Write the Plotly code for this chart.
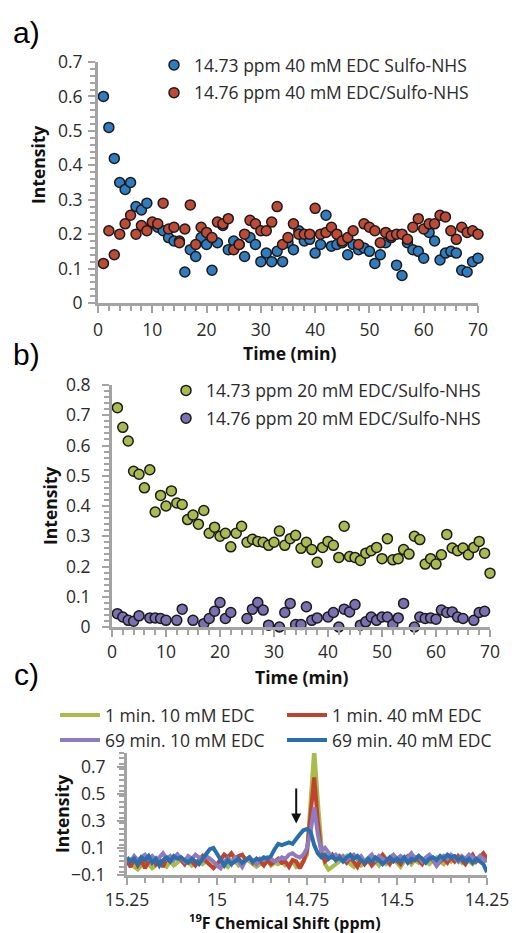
import plotly.graph_objects as go

# ---------------- Panel a data ----------------
time_a = list(range(1, 71))
blue_a = [0.60, 0.51, 0.42, 0.35, 0.33, 0.35, 0.28, 0.27, 0.29, 0.23,
          0.22, 0.21, 0.19, 0.18, 0.18, 0.09, 0.155, 0.135, 0.19, 0.17,
          0.095, 0.175, 0.225, 0.155, 0.18, 0.17, 0.135, 0.19, 0.17, 0.12,
          0.145, 0.12, 0.15, 0.12, 0.175, 0.155, 0.21, 0.18, 0.185, 0.145,
          0.17, 0.255, 0.165, 0.17, 0.175, 0.14, 0.17, 0.155, 0.16, 0.15,
          0.115, 0.14, 0.175, 0.19, 0.11, 0.08, 0.175, 0.155, 0.15, 0.13,
          0.205, 0.18, 0.125, 0.145, 0.15, 0.145, 0.095, 0.09, 0.12, 0.13]
red_a = [0.115, 0.21, 0.14, 0.2, 0.23, 0.255, 0.2, 0.225, 0.21, 0.235,
         0.23, 0.29, 0.215, 0.22, 0.175, 0.215, 0.285, 0.17, 0.22, 0.205,
         0.19, 0.235, 0.23, 0.245, 0.155, 0.17, 0.2, 0.24, 0.23, 0.21,
         0.21, 0.235, 0.28, 0.17, 0.19, 0.23, 0.2, 0.2, 0.2, 0.275,
         0.2, 0.205, 0.22, 0.2, 0.18, 0.19, 0.21, 0.17, 0.23, 0.22,
         0.21, 0.175, 0.205, 0.195, 0.2, 0.2, 0.185, 0.22, 0.245, 0.215,
         0.23, 0.23, 0.255, 0.25, 0.21, 0.185, 0.22, 0.205, 0.21, 0.2]

# ---------------- Panel b data ----------------
time_b_green = list(range(1, 71))
green_b = [0.725, 0.66, 0.615, 0.515, 0.505, 0.46, 0.52, 0.38, 0.435, 0.40,
           0.45, 0.41, 0.405, 0.355, 0.37, 0.34, 0.385, 0.31, 0.33, 0.30,
           0.31, 0.265, 0.31, 0.333, 0.28, 0.29, 0.283, 0.28, 0.27, 0.28,
           0.317, 0.27, 0.292, 0.303, 0.26, 0.28, 0.256, 0.214, 0.263, 0.283,
           0.27, 0.23, 0.333, 0.233, 0.23, 0.22, 0.244, 0.252, 0.263, 0.226,
           0.292, 0.222, 0.226, 0.256, 0.241, 0.30, 0.289, 0.208, 0.226, 0.208,
           0.239, 0.306, 0.261, 0.252, 0.261, 0.239, 0.263, 0.283, 0.244, 0.178]
time_b_purple = [1, 2, 3, 4, 5, 7, 8, 9, 10, 12, 13, 15, 17, 18, 19, 20, 21, 22,
                 25, 26, 27, 28, 29, 31, 32, 33, 34, 35, 36, 37, 38, 40, 41, 42,
                 43, 44, 45, 46, 47, 48, 49, 50, 51, 52, 53, 54, 56, 57, 58, 59,
                 60, 61, 62, 63, 64, 65, 67, 68, 69]
purple_b = [0.044, 0.033, 0.022, 0.019, 0.037, 0.03, 0.03, 0.028, 0.022, 0.022,
            0.059, 0.022, 0.011, 0.028, 0.052, 0.081, 0.028, 0.048,
            0.028, 0.059, 0.081, 0.056, 0.006, 0.0, 0.048, 0.078, 0.008, 0.008,
            0.067, 0.022, 0.03, 0.033, 0.048, 0.0,
            0.059, 0.05, 0.074, 0.006, 0.017, 0.033, 0.022, 0.033, 0.033, 0.008,
            0.03, 0.078, 0.0, 0.033, 0.028, 0.03,
            0.026, 0.056, 0.048, 0.05, 0.033, 0.028, 0.022, 0.048, 0.052]

# ---------------- Panel c data ----------------
ppm = [round(15.25 - 0.01 * i, 2) for i in range(101)]
spec_green_1min_10 = [
    -0.02, 0.01, -0.04, -0.06, -0.03, 0.0, -0.02, -0.05, -0.03, 0.0,
    -0.02, -0.04, 0.0, -0.03, -0.01, 0.02, -0.02, 0.0, -0.03, -0.01,
    0.01, -0.02, 0.0, 0.02, -0.01, -0.03, 0.0, -0.02, -0.04, 0.01,
    0.0, -0.03, -0.01, 0.02, 0.0, -0.02, -0.04, -0.02, 0.02, 0.01,
    -0.03, -0.01, -0.02, 0.0, -0.03, -0.02, 0.0, -0.04, -0.02, 0.0,
    0.05, 0.40, 0.83, 0.45, 0.12, -0.02, -0.06, -0.04, -0.02, 0.0,
    0.02, 0.04, -0.02, -0.04, 0.0, -0.03, -0.01, 0.02, -0.02, 0.0,
    -0.03, 0.01, -0.02, 0.0, 0.02, -0.01, -0.04, 0.0, 0.02, -0.02,
    0.01, -0.01, 0.02, 0.0, -0.02, 0.01, 0.03, 0.0, -0.02, 0.02,
    0.0, 0.03, 0.01, -0.01, 0.02, 0.0, -0.02, 0.01, 0.03, 0.0,
    0.01]
spec_red_1min_40 = [
    0.0, -0.04, 0.02, -0.03, 0.01, -0.05, 0.0, 0.03, -0.02, 0.01,
    -0.04, 0.02, 0.0, 0.03, 0.05, 0.01, -0.02, 0.03, 0.0, -0.03,
    0.01, 0.04, 0.0, -0.03, -0.05, -0.02, 0.02, 0.05, 0.03, 0.06,
    0.02, 0.04, 0.05, 0.01, 0.03, -0.01, 0.02, 0.0, -0.03, 0.01,
    -0.02, 0.0, 0.02, -0.01, 0.0, -0.04, 0.01, 0.0, -0.05, 0.0,
    0.08, 0.35, 0.62, 0.30, 0.06, 0.0, 0.03, 0.05, 0.01, 0.04,
    0.02, -0.01, 0.03, 0.0, -0.04, 0.02, -0.02, 0.01, -0.03, 0.0,
    0.02, 0.05, 0.01, -0.02, 0.03, 0.0, -0.02, 0.02, 0.04, 0.0,
    0.03, 0.01, -0.02, 0.02, 0.04, 0.01, -0.03, 0.0, 0.02, -0.01,
    0.03, 0.0, 0.04, 0.01, -0.02, 0.02, 0.05, 0.0, 0.03, 0.06,
    0.02]
spec_purple_69min_10 = [
    0.02, 0.0, 0.04, 0.01, 0.03, 0.05, 0.02, 0.04, 0.01, 0.03,
    0.06, 0.02, 0.04, 0.01, 0.05, 0.03, 0.0, 0.04, 0.02, 0.05,
    0.03, 0.01, 0.04, 0.02, 0.0, -0.03, -0.05, 0.0, 0.02, -0.02,
    0.03, 0.0, -0.04, 0.01, 0.03, 0.0, -0.02, 0.02, 0.01, 0.03,
    0.02, 0.0, 0.01, 0.03, 0.02, 0.05, 0.06, 0.04, 0.03, 0.05,
    0.10, 0.22, 0.40, 0.20, 0.08, 0.10, 0.06, 0.03, 0.05, 0.02,
    0.04, 0.01, 0.03, 0.05, 0.02, 0.04, 0.0, 0.03, 0.05, 0.01,
    0.04, 0.02, 0.0, 0.03, 0.05, 0.02, 0.04, 0.01, 0.03, 0.06,
    0.02, 0.04, 0.0, 0.03, 0.05, 0.02, -0.03, 0.01, 0.04, 0.02,
    0.05, 0.03, 0.0, 0.04, 0.02, 0.05, 0.03, 0.01, 0.04, 0.02,
    0.0]
spec_blue_69min_40 = [
    0.03, 0.0, 0.02, -0.02, 0.03, 0.01, 0.04, -0.01, 0.02, -0.03,
    0.01, 0.03, 0.0, 0.04, 0.02, 0.03, 0.01, -0.01, 0.02, 0.0,
    -0.02, 0.02, 0.05, 0.09, 0.10, 0.06, 0.02, -0.03, 0.01, -0.02,
    0.0, 0.02, -0.01, 0.01, 0.03, 0.0, 0.02, 0.01, 0.03, 0.02,
    0.04, 0.09, 0.13, 0.12, 0.13, 0.14, 0.13, 0.17, 0.20, 0.23,
    0.24, 0.22, 0.12, 0.06, 0.03, 0.05, 0.02, 0.04, 0.01, 0.03,
    0.0, 0.03, 0.05, 0.02, 0.04, 0.01, -0.01, 0.02, 0.0, 0.03,
    0.01, -0.02, 0.01, 0.03, 0.0, 0.02, 0.0, 0.03, -0.01, 0.02,
    0.01, 0.04, 0.02, -0.01, 0.02, 0.03, 0.01, 0.04, 0.02, 0.05,
    0.03, 0.04, 0.01, 0.03, 0.0, 0.02, -0.01, 0.02, 0.0, -0.02,
    -0.08]

c_ticks = [15.25, 15, 14.75, 14.5, 14.25]
c_ticktext = ["15.25", "15", "14.75", "14.5", "14.25"]

# ---------------- Styles ----------------
W, H = 516, 933
BLUE = "#2f7dc0"
RED = "#bf4b37"
GREEN = "#abba4e"
PURPLE = "#7a70b2"
L_GREEN = "#a9bc4a"
L_RED = "#c0432e"
L_PURPLE = "#8e7cc3"
L_BLUE = "#2a6fad"
AXC = "#a3a3a3"
FONT = "Open Sans"
FS = 17.5
TICKFONT = dict(family=FONT, size=FS, color="#2a2a2a")
LEGFONT = dict(family=FONT, size=FS, color="#2a2a2a")
mk_line = dict(color="#1a1a1a", width=1.5)


def px_x(p):
    return p / W


def px_y(p):
    return 1 - p / H


fig = go.Figure()

# Panel a
fig.add_trace(go.Scatter(x=time_a, y=blue_a, mode="markers", xaxis="x", yaxis="y",
                         name="14.73 ppm 40 mM EDC Sulfo-NHS", legend="legend",
                         legendgroup="a1", cliponaxis=False,
                         marker=dict(size=10, color=BLUE, line=mk_line)))
fig.add_trace(go.Scatter(x=time_a, y=red_a, mode="markers", xaxis="x", yaxis="y",
                         name="14.76 ppm 40 mM EDC/Sulfo-NHS", legend="legend",
                         legendgroup="a2", cliponaxis=False,
                         marker=dict(size=10, color=RED, line=mk_line)))
# Panel b
fig.add_trace(go.Scatter(x=time_b_green, y=green_b, mode="markers", xaxis="x2", yaxis="y2",
                         name="14.73 ppm 20 mM EDC/Sulfo-NHS", legend="legend2",
                         legendgroup="b1", cliponaxis=False,
                         marker=dict(size=10, color=GREEN, line=mk_line)))
fig.add_trace(go.Scatter(x=time_b_purple, y=purple_b, mode="markers", xaxis="x2", yaxis="y2",
                         name="14.76 ppm 20 mM EDC/Sulfo-NHS", legend="legend2",
                         legendgroup="b2", cliponaxis=False,
                         marker=dict(size=10, color=PURPLE, line=mk_line)))
# Panel c
for ys, nm, col, lg in [(spec_green_1min_10, "1 min. 10 mM EDC", L_GREEN, "legend3"),
                        (spec_red_1min_40, "1 min. 40 mM EDC", L_RED, "legend3"),
                        (spec_purple_69min_10, "69 min. 10 mM EDC", L_PURPLE, "legend4"),
                        (spec_blue_69min_40, "69 min. 40 mM EDC", L_BLUE, "legend4")]:
    fig.add_trace(go.Scatter(x=ppm, y=ys, mode="lines", xaxis="x3", yaxis="y3",
                             name=nm, legend=lg,
                             line=dict(color=col, width=4)))

axis_common = dict(showline=True, linecolor=AXC, linewidth=3, showgrid=False,
                   zeroline=False, ticks="outside", tickcolor=AXC, tickwidth=1.5,
                   ticklen=7, tickfont=TICKFONT, automargin=False)
minor_common = dict(ticks="outside", ticklen=5, tickcolor=AXC, tickwidth=1.5)

fig.update_layout(
    width=W, height=H, margin=dict(l=0, r=0, t=0, b=0, autoexpand=False),
    paper_bgcolor="white", plot_bgcolor="white",
    font=dict(family=FONT, size=FS, color="#2a2a2a"),
    xaxis=dict(domain=[px_x(98), px_x(478)], range=[0, 70], dtick=10, anchor="y",
               minor=dict(dtick=2, **minor_common), ticklabelstandoff=2, **axis_common),
    yaxis=dict(domain=[px_y(303), px_y(62)], range=[0, 0.7], dtick=0.1, anchor="x",
               minor=dict(dtick=0.02, **minor_common), ticklabelstandoff=2, **axis_common),
    xaxis2=dict(domain=[px_x(112), px_x(490)], range=[0, 70], dtick=10, anchor="y2",
                minor=dict(dtick=2, **minor_common), ticklabelstandoff=0, **axis_common),
    yaxis2=dict(domain=[px_y(627), px_y(385)], range=[0, 0.8], dtick=0.1, anchor="x2",
                minor=dict(dtick=0.02, **minor_common), ticklabelstandoff=8, **axis_common),
    xaxis3=dict(domain=[px_x(127), px_x(487)], range=[15.25, 14.25], anchor="y3",
                tickvals=c_ticks, ticktext=c_ticktext,
                minor=dict(dtick=0.05, **minor_common), ticklabelstandoff=0, **axis_common),
    yaxis3=dict(domain=[px_y(875), px_y(753)], range=[-0.1, 0.8], tick0=-0.1, dtick=0.2,
                anchor="x3",
                minor=dict(dtick=0.04, **minor_common), ticklabelstandoff=8, **axis_common),
    legend=dict(x=px_x(154), y=px_y(79), xanchor="left", yanchor="middle",
                bgcolor="rgba(0,0,0,0)", font=LEGFONT,
                tracegroupgap=2, traceorder="grouped"),
    legend2=dict(x=px_x(166), y=px_y(404.5), xanchor="left", yanchor="middle",
                 bgcolor="rgba(0,0,0,0)", font=LEGFONT,
                 tracegroupgap=2, traceorder="grouped"),
    legend3=dict(x=px_x(55), y=px_y(715), xanchor="left", yanchor="middle",
                 orientation="h", itemwidth=40, entrywidth=172, entrywidthmode="pixels",
                 bgcolor="rgba(0,0,0,0)", font=LEGFONT),
    legend4=dict(x=px_x(55), y=px_y(740), xanchor="left", yanchor="middle",
                 orientation="h", itemwidth=40, entrywidth=172, entrywidthmode="pixels",
                 bgcolor="rgba(0,0,0,0)", font=LEGFONT),
    showlegend=True,
)

title_font = dict(family=FONT, size=17.5, color="#111111", weight="bold")
label_font = dict(family="Liberation Sans", size=30, color="#000")
annots = [
    dict(text="a)", x=px_x(26), y=px_y(33), font=label_font),
    dict(text="b)", x=px_x(26), y=px_y(354), font=label_font),
    dict(text="c)", x=px_x(26), y=px_y(674), font=label_font),
    dict(text="Intensity", x=px_x(38), y=px_y(165), textangle=-90, font=title_font),
    dict(text="Time (min)", x=px_x(290), y=px_y(353), font=title_font),
    dict(text="Intensity", x=px_x(50), y=px_y(506), textangle=-90, font=title_font),
    dict(text="Time (min)", x=px_x(302), y=px_y(677), font=title_font),
    dict(text="Intensity", x=px_x(62), y=px_y(814), textangle=-90, font=title_font),
    dict(text="<sup>19</sup>F Chemical Shift (ppm)", x=px_x(285), y=px_y(921.5),
         font=dict(family=FONT, size=16, color="#111111", weight="bold")),
]
for a in annots:
    a.update(xref="paper", yref="paper", showarrow=False, xanchor="center", yanchor="middle")
    fig.add_annotation(**a)

# arrow in panel c
fig.add_annotation(x=14.78, y=0.28, ax=14.78, ay=0.55, xref="x3", yref="y3",
                   axref="x3", ayref="y3", showarrow=True, arrowhead=2,
                   arrowsize=1, arrowwidth=2, arrowcolor="#111", text="")

fig.write_html("out.html")
